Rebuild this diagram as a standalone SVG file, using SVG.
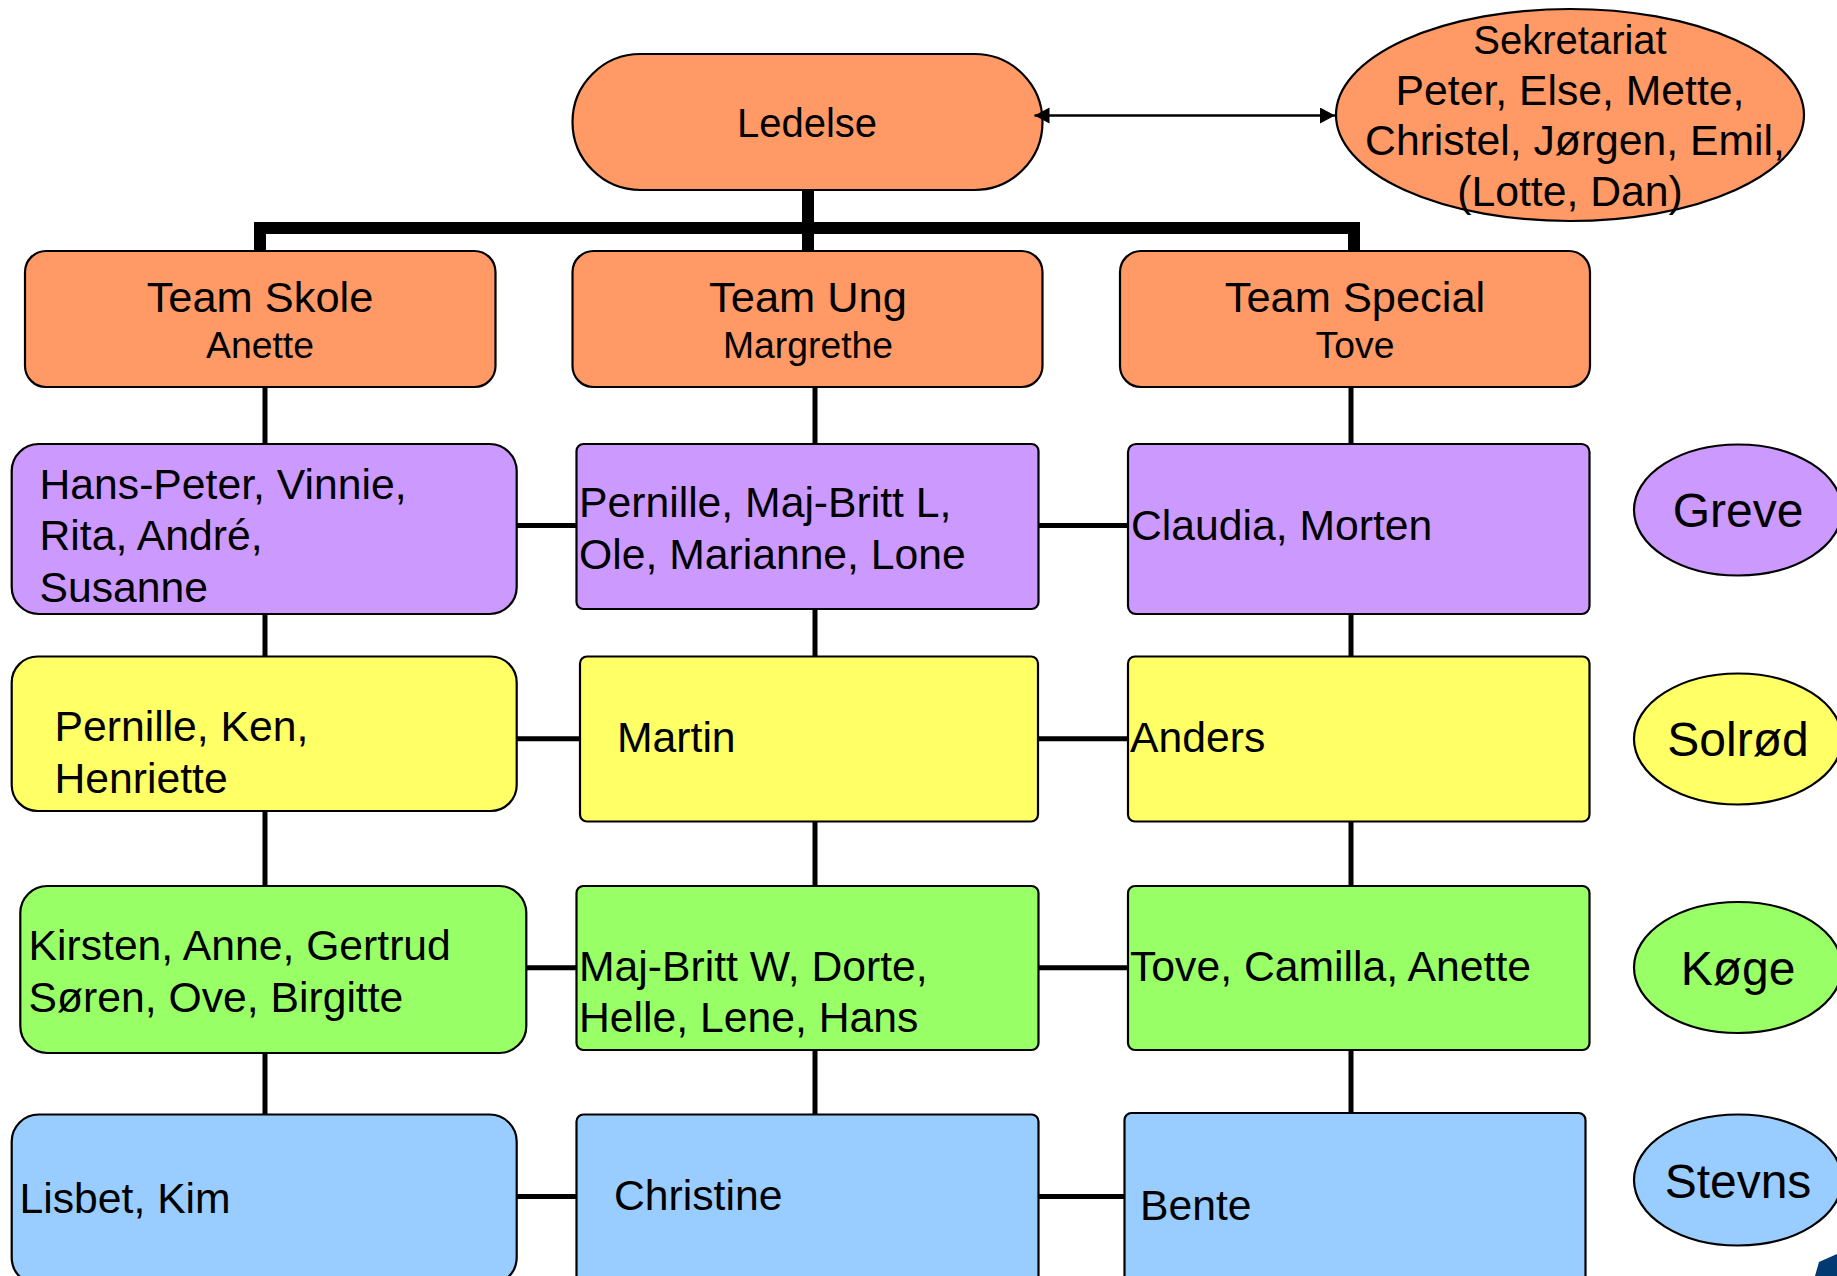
<svg xmlns="http://www.w3.org/2000/svg" width="1837" height="1276" viewBox="0 0 1837 1276">
<style>
text{font-family:"Liberation Sans",Arial,sans-serif;fill:#000;font-size:42.7px}
.c{text-anchor:middle}
.h{font-size:43.4px}
.s{font-size:37.3px}
.e{font-size:48px}
.o{fill:#ff9966}.p{fill:#cc99ff}.y{fill:#ffff66}.g{fill:#99ff66}.b{fill:#99ccff}
.n rect,.n ellipse{stroke:#000;stroke-width:2.2}
.thin{stroke:#000;stroke-width:5;fill:none}
.thick{stroke:#000;stroke-width:12;fill:none}
.arr{stroke:#000;stroke-width:2.4;fill:none;marker-start:url(#ah);marker-end:url(#ah)}
</style>
<defs><marker id="ah" markerUnits="userSpaceOnUse" markerWidth="16" markerHeight="18" refX="15" refY="8" orient="auto-start-reverse"><path d="M0 0L15 8L0 16Z" fill="#000"/></marker></defs>
<rect width="1837" height="1276" fill="#fff"/>
<g class="n">
<g id="ledelse"><rect class="o" x="572.500" y="54" width="470" height="136" rx="68" ry="68"/><text class="c" x="807" y="137" style="font-size:40px">Ledelse</text></g>
<g id="sekretariat"><ellipse class="o" cx="1570" cy="115" rx="234" ry="106"/>
<text class="c" x="1570" y="54" style="font-size:40px">Sekretariat</text>
<text class="c" x="1570" y="105">Peter, Else, Mette,</text>
<text class="c" x="1575" y="155">Christel, Jørgen, Emil,</text>
<text class="c" x="1570" y="206">(Lotte, Dan)</text></g>
<g id="team-skole"><rect class="o" x="25" y="251" width="470.500" height="136" rx="21"/><text class="c h" x="260" y="312">Team Skole</text><text class="c s" x="260" y="358">Anette</text></g>
<g id="team-ung"><rect class="o" x="572.500" y="251" width="470" height="136" rx="21"/><text class="c h" x="808" y="312">Team Ung</text><text class="c s" x="808" y="358">Margrethe</text></g>
<g id="team-special"><rect class="o" x="1120" y="251" width="470" height="136" rx="21"/><text class="c h" x="1355" y="312">Team Special</text><text class="c s" x="1355" y="358">Tove</text></g>

<g id="greve-skole"><rect class="p" x="11.700" y="444" width="505" height="170" rx="27"/><text x="39.500" y="499">Hans-Peter, Vinnie,</text><text x="39.500" y="550">Rita, André,</text><text x="39.500" y="602">Susanne</text></g>
<g id="greve-ung"><rect class="p" x="576.500" y="444" width="462" height="165" rx="7"/><text x="579" y="517">Pernille, Maj-Britt L,</text><text x="579" y="569">Ole, Marianne, Lone</text></g>
<g id="greve-special"><rect class="p" x="1128" y="444" width="461.500" height="170" rx="8"/><text x="1131" y="540">Claudia, Morten</text></g>

<g id="solrod-skole"><rect class="y" x="11.700" y="656.500" width="505" height="154.500" rx="26"/><text x="54.500" y="741">Pernille, Ken,</text><text x="54.500" y="793">Henriette</text></g>
<g id="solrod-ung"><rect class="y" x="580" y="656.500" width="458" height="165" rx="7"/><text x="617" y="752">Martin</text></g>
<g id="solrod-special"><rect class="y" x="1128" y="656.500" width="461.500" height="165" rx="7"/><text x="1130" y="752">Anders</text></g>

<g id="koge-skole"><rect class="g" x="20.300" y="886" width="506" height="167" rx="27"/><text x="28.500" y="960">Kirsten, Anne, Gertrud</text><text x="28.500" y="1012">Søren, Ove, Birgitte</text></g>
<g id="koge-ung"><rect class="g" x="576.500" y="886" width="462" height="164" rx="7"/><text x="579" y="981">Maj-Britt W, Dorte,</text><text x="579" y="1032">Helle, Lene, Hans</text></g>
<g id="koge-special"><rect class="g" x="1128" y="886" width="461.500" height="164" rx="7"/><text x="1130" y="981">Tove, Camilla, Anette</text></g>

<g id="stevns-skole"><rect class="b" x="11.700" y="1114.500" width="505" height="170" rx="27"/><text x="19.500" y="1213">Lisbet, Kim</text></g>
<g id="stevns-ung"><rect class="b" x="576.500" y="1114.500" width="462" height="170" rx="7"/><text x="614" y="1210">Christine</text></g>
<g id="stevns-special"><rect class="b" x="1124.500" y="1113" width="461" height="170" rx="7"/><text x="1140" y="1220">Bente</text></g>

<g id="greve"><ellipse class="p" cx="1738" cy="510" rx="104" ry="65.500"/><text class="c e" x="1738" y="527">Greve</text></g>
<g id="solrod"><ellipse class="y" cx="1738" cy="739" rx="104" ry="65.500"/><text class="c e" x="1738" y="756">Solrød</text></g>
<g id="koge"><ellipse class="g" cx="1738" cy="967.500" rx="104" ry="65.500"/><text class="c e" x="1738" y="985">Køge</text></g>
<g id="stevns"><ellipse class="b" cx="1738" cy="1180" rx="104" ry="65.500"/><text class="c e" x="1738" y="1198">Stevns</text></g>
</g>
<g id="connectors">
<path class="thick" d="M808 190V250M260 250V228H1354V250"/>
<path class="arr" d="M1034.500 115.500H1335"/>
<path class="thin" d="M265 387V444M265 614V656M265 811V886M265 1053V1114M815 387V444M815 609V656M815 821V886M815 1050V1114M1351 387V444M1351 614V656M1351 821V886M1351 1050V1113"/>
<path class="thin" d="M517 525.500H576M1038 525.500H1128M517 738.700H580M1038 738.700H1128M526 967.700H576M1038 967.700H1128M517 1196.500H576M1038 1196.500H1124"/>
</g>
<path id="logo" d="M1837 1254L1819 1262L1815 1276H1837Z" fill="#003a70"/>
</svg>
